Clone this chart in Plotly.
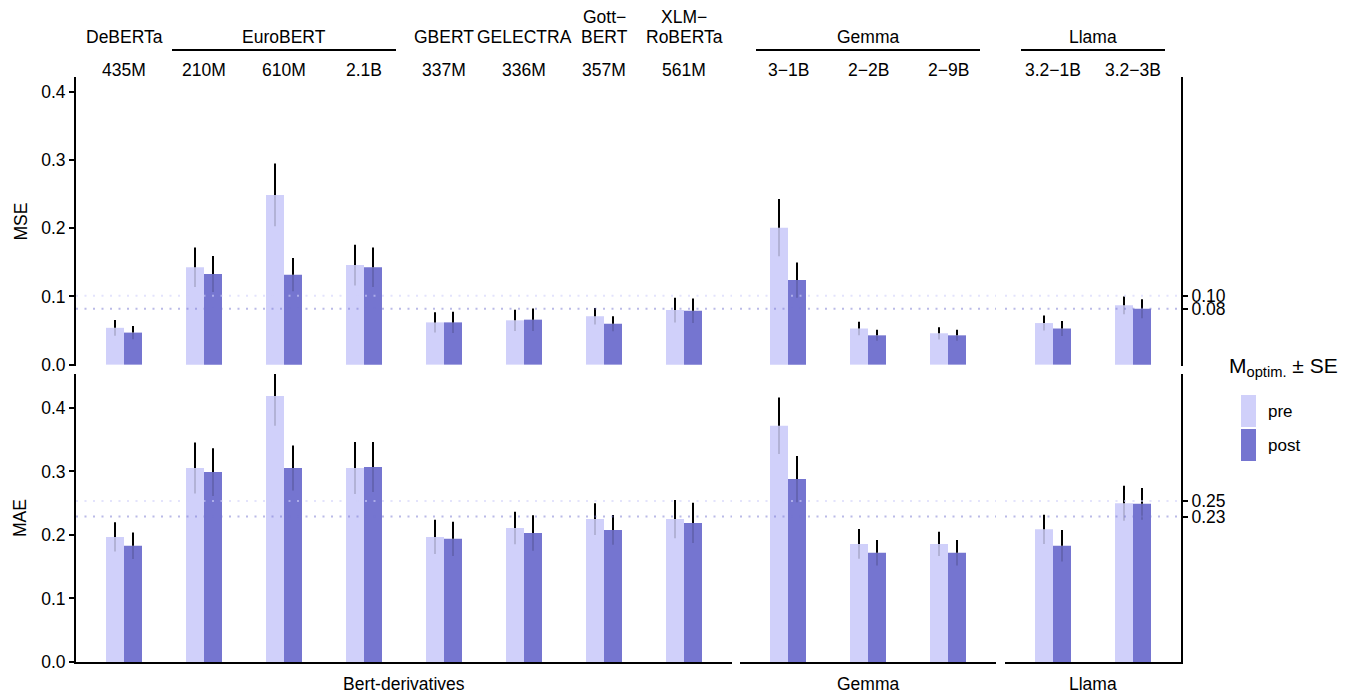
import plotly.graph_objects as go

# ---------------- data ----------------
groups = ["Bert-derivatives", "Gemma", "Llama"]
families = [
    ["DeBERTa", "EuroBERT", "EuroBERT", "EuroBERT", "GBERT", "GELECTRA", "Gott−\nBERT", "XLM−\nRoBERTa"],
    ["Gemma", "Gemma", "Gemma"],
    ["Llama", "Llama"],
]
sizes = [
    ["435M", "210M", "610M", "2.1B", "337M", "336M", "357M", "561M"],
    ["3−1B", "2−2B", "2−9B"],
    ["3.2−1B", "3.2−3B"],
]

mse_pre = [[0.054, 0.143, 0.249, 0.146, 0.062, 0.065, 0.071, 0.080], [0.201, 0.053, 0.046], [0.061, 0.087]]
mse_pre_se = [[0.0115, 0.029, 0.046, 0.030, 0.015, 0.0155, 0.012, 0.018], [0.042, 0.010, 0.009], [0.011, 0.013]]
mse_post = [[0.047, 0.133, 0.132, 0.143, 0.062, 0.066, 0.060, 0.079], [0.124, 0.043, 0.043], [0.053, 0.082]]
mse_post_se = [[0.0098, 0.0265, 0.0245, 0.029, 0.0155, 0.0165, 0.011, 0.018], [0.026, 0.008, 0.008], [0.011, 0.014]]

mae_pre = [[0.197, 0.3055, 0.419, 0.3055, 0.197, 0.211, 0.225, 0.225], [0.372, 0.186, 0.186], [0.209, 0.250]]
mae_pre_se = [[0.023, 0.040, 0.047, 0.041, 0.027, 0.0255, 0.025, 0.030], [0.0445, 0.0235, 0.019], [0.023, 0.0275]]
mae_post = [[0.183, 0.299, 0.3055, 0.307, 0.194, 0.203, 0.208, 0.219], [0.288, 0.172, 0.172], [0.183, 0.249]]
mae_post_se = [[0.021, 0.0375, 0.0355, 0.0395, 0.027, 0.028, 0.0235, 0.0318], [0.0365, 0.020, 0.020], [0.0247, 0.025]]

baseline_mse = {"pre": 0.101, "post": 0.082}
baseline_mae = {"pre": 0.2535, "post": 0.229}

metrics = ["MSE", "MAE"]
yticks = [0.0, 0.1, 0.2, 0.3, 0.4]

# ---------------- styling ----------------
FONT = "Liberation Sans, Arial, Helvetica, sans-serif"
FS = 17.5
C_PRE = "#D0D0FA"
C_POST = "#7575D0"
BASE_COL = {"pre": "rgba(208,208,250,0.6)", "post": "rgba(117,117,208,0.5)"}
OFF = 8  # page body margin of the browser
W = 1355 - OFF
H = 694 - OFF
PL, PR, PT, PB = 76, 1181, 77, 662  # plot area in page pixels
ML, MT = PL - OFF, PT - OFF
MR = 1355 - PR
MB = 694 - PB
PW = PR - PL
PH = PB - PT
BW = 0.225  # bar width in category units

col_px = [(0, 656), (664, 920), (929, PW)]
col_dom = [[a / PW, b / PW] for a, b in col_px]
row_dom = [[(PB - 366) / PH, 1.0], [0.0, (PB - 374) / PH]]
row_rng = [[-0.002, 0.422], [0.0, 0.4535]]


def px_y(p):
    return (PB - p) / PH


def px_x(p):
    return (p - PL) / PW


fig = go.Figure()
data = {
    "MSE": (mse_pre, mse_pre_se, mse_post, mse_post_se, baseline_mse),
    "MAE": (mae_pre, mae_pre_se, mae_post, mae_post_se, baseline_mae),
}

layout = dict(
    width=W, height=H, margin=dict(l=ML, r=MR, t=MT, b=MB),
    plot_bgcolor="white", paper_bgcolor="white",
    font=dict(family=FONT, size=FS, color="black"),
    showlegend=False, barmode="overlay",
)
shapes = []
annotations = []

for r, metric in enumerate(metrics):
    pre, pre_se, post, post_se, base = data[metric]
    for c in range(3):
        k = r * 3 + c + 1
        xa = "x" if k == 1 else f"x{k}"
        ya = "y" if k == 1 else f"y{k}"
        n = len(sizes[c])
        idx = list(range(n))
        fig.add_trace(go.Bar(x=idx, y=pre[c], width=BW, offset=-BW, marker=dict(color=C_PRE, line=dict(width=0)),
                             name="pre", xaxis=xa, yaxis=ya))
        fig.add_trace(go.Bar(x=idx, y=post[c], width=BW, offset=0, marker=dict(color=C_POST, line=dict(width=0)),
                             name="post", xaxis=xa, yaxis=ya))
        # error bars: upper part black, part inside bar faint
        for vals, ses, sign in ((pre[c], pre_se[c], -1), (post[c], post_se[c], 1)):
            xs_up, ys_up, xs_lo, ys_lo = [], [], [], []
            for i, (v, s) in enumerate(zip(vals, ses)):
                xx = i + sign * BW / 2
                xs_up += [xx, xx, None]
                ys_up += [v, v + s, None]
                xs_lo += [xx, xx, None]
                ys_lo += [v - s, v, None]
            fig.add_trace(go.Scatter(x=xs_lo, y=ys_lo, mode="lines", line=dict(color="rgba(0,0,0,0.14)", width=2),
                                     xaxis=xa, yaxis=ya, hoverinfo="skip"))
            fig.add_trace(go.Scatter(x=xs_up, y=ys_up, mode="lines", line=dict(color="black", width=2),
                                     xaxis=xa, yaxis=ya, hoverinfo="skip"))
        # baselines
        for key in ("pre", "post"):
            shapes.append(dict(type="line", xref=f"{xa} domain", x0=0, x1=1, yref=ya, y0=base[key], y1=base[key],
                               line=dict(color=BASE_COL[key], width=2, dash="2px,6.5px"), layer="above"))

        xkey = "xaxis" if k == 1 else f"xaxis{k}"
        ykey = "yaxis" if k == 1 else f"yaxis{k}"
        layout[xkey] = dict(domain=col_dom[c], anchor=ya, range=[-0.6, n - 0.4], showgrid=False, zeroline=False,
                            showticklabels=False, ticks="", showline=(r == 1), linecolor="black", linewidth=2,
                            fixedrange=True)
        yax = dict(domain=row_dom[r], anchor=xa, range=row_rng[r], showgrid=False, zeroline=False, fixedrange=True)
        if c == 0:
            yax.update(showline=True, linecolor="black", linewidth=2, ticks="outside", ticklen=5, tickwidth=1.5,
                       tickcolor="black", tickvals=yticks, ticktext=[f"{v:.1f}" for v in yticks],
                       tickfont=dict(size=FS))
        elif c == 2:
            bv = [base["pre"], base["post"]]
            yax.update(side="right", showline=True, linecolor="black", linewidth=2, ticks="outside", ticklen=5,
                       tickwidth=1.5, tickcolor="black", tickvals=bv, ticktext=[f"{v:.2f}" for v in bv],
                       tickfont=dict(size=FS))
        else:
            yax.update(showline=False, showticklabels=False, ticks="")
        layout[ykey] = yax

# ---- top header: family labels, lines, size labels ----
LINE_GAP = 19
for c in range(3):
    xa = "x" if c == 0 else f"x{c + 1}"
    fams = families[c]
    for i, s in enumerate(sizes[c]):
        annotations.append(dict(x=i, y=px_y(70), xref=xa, yref="paper", text=s, showarrow=False,
                                yanchor="middle", font=dict(size=FS)))
    start = 0
    for i in range(1, len(fams) + 1):
        if i == len(fams) or fams[i] != fams[start]:
            end = i - 1
            lines = fams[start].split("\n")
            for j, ln in enumerate(reversed(lines)):
                annotations.append(dict(x=(start + end) / 2, y=px_y(36.5 - j * LINE_GAP), xref=xa, yref="paper",
                                        text=ln, showarrow=False, yanchor="middle", borderpad=0,
                                        font=dict(size=FS)))
            if end > start:
                shapes.append(dict(type="line", xref=xa, x0=start - 0.4, x1=end + 0.4, yref="paper",
                                   y0=px_y(50), y1=px_y(50), line=dict(color="black", width=2)))
            start = i
    # bottom strip label
    annotations.append(dict(x=0.5, y=px_y(684), xref=f"{xa} domain", yref="paper", text=groups[c],
                            showarrow=False, yanchor="middle", font=dict(size=FS)))

# ---- y titles ----
for r, metric in enumerate(metrics):
    yc = (row_dom[r][0] + row_dom[r][1]) / 2
    annotations.append(dict(x=px_x(20), y=yc, xref="paper", yref="paper", text=metric, textangle=-90,
                            showarrow=False, xanchor="center", yanchor="middle", font=dict(size=FS)))

# ---- manual legend ----
annotations.append(dict(x=px_x(1227), y=px_y(367), xref="paper", yref="paper",
                        text="M<sub>optim.</sub> ± SE", showarrow=False, xanchor="left", yanchor="middle",
                        font=dict(size=21)))
for j, (lab, col) in enumerate((("pre", C_PRE), ("post", C_POST))):
    top = 395 + j * 34
    shapes.append(dict(type="rect", xref="paper", yref="paper", x0=px_x(1241), x1=px_x(1256),
                       y0=px_y(top + 32), y1=px_y(top), fillcolor=col, line=dict(width=0)))
    annotations.append(dict(x=px_x(1266), y=px_y(top + 16), xref="paper", yref="paper", text=lab,
                            showarrow=False, xanchor="left", yanchor="middle", font=dict(size=17)))

layout["shapes"] = shapes
layout["annotations"] = annotations
fig.update_layout(**layout)
fig.write_html("out.html")
